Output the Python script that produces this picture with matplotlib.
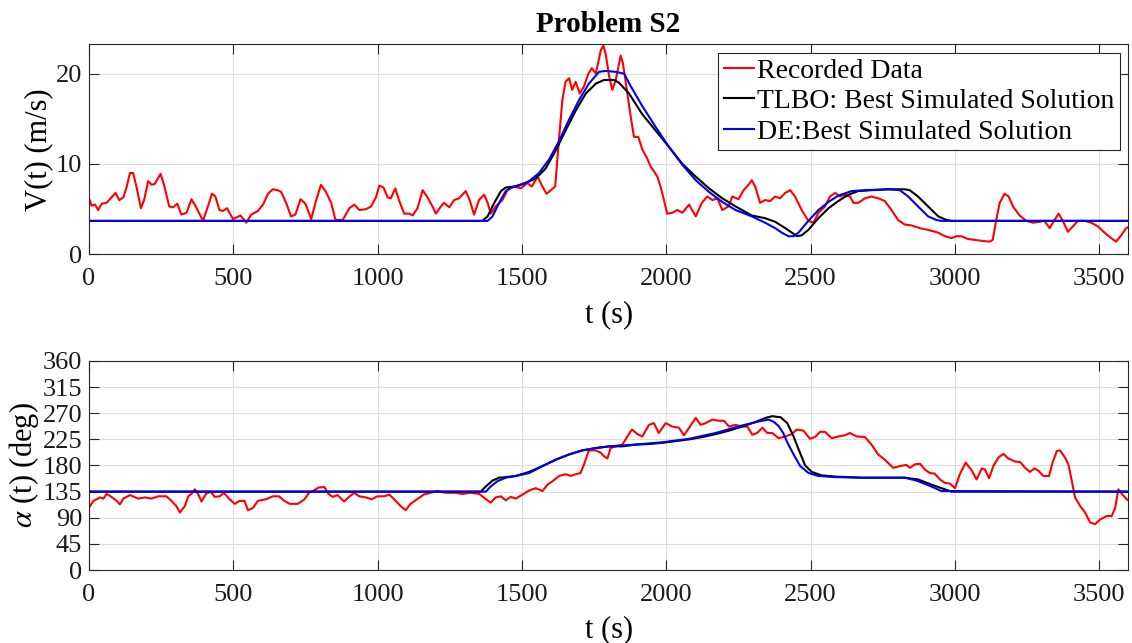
import numpy as np
import matplotlib
matplotlib.use('Agg')
import matplotlib.pyplot as plt

plt.rcParams['font.family'] = ['Liberation Serif', 'DejaVu Serif']
plt.rcParams['mathtext.fontset'] = 'stix'

# ---------- data ----------
# speed V(t), recorded
t_v_rec = [0, 9, 21, 32, 44, 61, 78, 92, 105, 119, 130, 142, 153, 165, 180, 191, 205, 217, 228, 248,
           259, 278, 291, 306, 320, 338, 355, 370, 395, 412, 426, 438, 452, 464, 478, 499, 525, 545, 562, 585,
           603, 620, 637, 654, 666, 683, 700, 715, 733, 750, 770, 787, 804, 821, 839, 854, 879, 902, 919, 937,
           960, 977, 994, 1006, 1020, 1035, 1046, 1061, 1075, 1092, 1110, 1121, 1138, 1156, 1173, 1190, 1202, 1219, 1230, 1248,
           1265, 1282, 1305, 1319, 1334, 1351, 1369, 1381, 1392, 1409, 1432, 1450, 1473, 1496, 1519, 1534, 1554, 1571, 1585, 1600,
           1615, 1626, 1640, 1651, 1663, 1674, 1686, 1700, 1715, 1730, 1742, 1756, 1773, 1782, 1790, 1802, 1813, 1825, 1842, 1850,
           1865, 1877, 1888, 1903, 1917, 1934, 1946, 1957, 1969, 1980, 1992, 2003, 2021, 2038, 2056, 2079, 2102, 2123, 2142, 2160,
           2177, 2194, 2215, 2229, 2250, 2268, 2285, 2296, 2308, 2325, 2342, 2360, 2377, 2394, 2412, 2429, 2446, 2469, 2492, 2510,
           2527, 2550, 2567, 2585, 2602, 2619, 2637, 2648, 2665, 2688, 2711, 2734, 2757, 2780, 2803, 2826, 2849, 2878, 2907, 2942,
           2965, 2988, 3005, 3022, 3045, 3068, 3091, 3120, 3131, 3143, 3155, 3172, 3186, 3201, 3224, 3247, 3270, 3293, 3310, 3328,
           3345, 3359, 3374, 3391, 3409, 3426, 3449, 3472, 3495, 3518, 3541, 3558, 3576, 3593, 3600]
v_rec = [6.2, 5.4, 5.5, 4.9, 5.6, 5.7, 6.3, 6.8, 6.0, 6.3, 7.4, 9.0, 9.0, 7.4, 5.1, 6.0, 8.1, 7.7, 7.8, 8.9,
         7.8, 5.3, 5.2, 5.6, 4.4, 4.6, 6.1, 5.3, 3.7, 5.3, 6.7, 6.4, 4.9, 4.8, 5.1, 3.9, 4.3, 3.5, 4.4, 4.8,
         5.5, 6.7, 7.2, 7.1, 6.9, 5.7, 4.2, 4.4, 6.1, 5.6, 3.9, 6.0, 7.7, 6.9, 5.7, 3.8, 3.8, 5.1, 5.5, 4.9,
         5.0, 5.3, 6.3, 7.6, 7.4, 6.3, 6.2, 7.3, 5.9, 4.5, 4.5, 4.3, 5.1, 7.1, 6.3, 5.3, 4.5, 5.3, 5.7, 5.2,
         6.0, 6.2, 7.0, 6.0, 4.4, 6.0, 6.6, 5.7, 4.5, 5.3, 6.0, 7.1, 7.5, 7.3, 7.9, 7.5, 8.6, 7.5, 6.7, 7.1,
         7.5, 11.9, 17.1, 19.1, 19.5, 18.2, 19.1, 17.8, 18.6, 20.0, 20.6, 20.0, 22.6, 23.1, 22.2, 19.7, 18.2, 19.3, 22.0, 21.1,
         17.8, 15.2, 13.0, 13.0, 11.6, 10.6, 9.7, 9.2, 8.6, 7.5, 6.0, 4.5, 4.6, 4.9, 4.6, 5.5, 4.2, 5.7, 6.4, 6.0,
         6.2, 4.9, 5.3, 6.4, 6.1, 7.1, 7.7, 8.2, 7.5, 5.7, 6.0, 5.9, 6.4, 6.2, 6.8, 7.1, 6.4, 4.9, 3.7, 3.5,
         4.6, 5.3, 6.4, 6.8, 6.4, 6.6, 6.4, 5.7, 5.7, 6.2, 6.4, 6.2, 5.9, 4.9, 3.8, 3.3, 3.2, 2.9, 2.7, 2.4,
         2.0, 1.8, 2.0, 2.0, 1.7, 1.6, 1.5, 1.4, 1.6, 3.8, 5.7, 6.7, 6.4, 5.3, 4.3, 3.7, 3.5, 3.6, 3.7, 2.9,
         3.8, 4.5, 3.7, 2.5, 3.1, 3.7, 3.7, 3.5, 3.1, 2.4, 1.8, 1.4, 2.1, 2.9, 3.0]

# speed V(t), TLBO best solution
t_v_tlbo = [0, 1363, 1381, 1404, 1427, 1444, 1473, 1513, 1548, 1582, 1617, 1651, 1686, 1721, 1756, 1784, 1819, 1836,
            1871, 1917, 1963, 2009, 2056, 2102, 2148, 2194, 2240, 2296, 2342, 2377, 2412, 2435, 2452, 2469, 2492,
            2527, 2562, 2596, 2631, 2665, 2711, 2769, 2826, 2843, 2872, 2907, 2942, 2971, 2988, 3600]
v_tlbo = [3.7, 3.7, 4.2, 5.7, 7.0, 7.4, 7.5, 7.9, 8.4, 9.5, 11.5, 13.7, 15.9, 17.8, 18.9, 19.3, 19.3, 19.0,
          17.8, 15.5, 13.7, 11.9, 10.0, 8.6, 7.3, 6.2, 5.3, 4.3, 4.0, 3.6, 2.9, 2.4, 2.0, 2.1, 2.7,
          4.0, 5.1, 5.9, 6.6, 7.0, 7.1, 7.2, 7.2, 7.1, 6.4, 5.3, 4.2, 3.8, 3.7, 3.7]

# speed V(t), DE best solution
t_v_de = [0, 1381, 1398, 1421, 1444, 1461, 1490, 1525, 1559, 1594, 1628, 1663, 1698, 1732, 1767, 1790, 1825, 1854,
          1877, 1917, 1963, 2009, 2056, 2102, 2148, 2194, 2240, 2296, 2342, 2377, 2400, 2423, 2440, 2458, 2492,
          2527, 2562, 2596, 2642, 2688, 2769, 2809, 2838, 2872, 2907, 2936, 2953, 3600]
v_de = [3.7, 3.7, 4.2, 5.7, 7.0, 7.4, 7.6, 8.1, 9.0, 10.5, 12.5, 14.9, 17.1, 18.9, 20.2, 20.3, 20.2, 20.0,
        18.6, 16.4, 14.1, 11.9, 9.9, 8.2, 6.9, 5.8, 4.9, 4.2, 3.5, 2.9, 2.4, 2.0, 2.0, 2.4, 3.7,
        4.9, 5.8, 6.5, 7.0, 7.1, 7.2, 7.1, 6.4, 5.3, 4.2, 3.8, 3.7, 3.7]

# heading alpha(t), recorded
t_a_rec = [0, 15, 27, 38, 50, 61, 75, 96, 107, 119, 142, 171, 194, 217, 240, 268, 286, 303, 315, 332,
           344, 355, 367, 378, 390, 405, 421, 436, 453, 467, 487, 505, 522, 539, 551, 568, 585, 614, 637, 658,
           677, 695, 724, 747, 762, 775, 796, 815, 830, 844, 861, 884, 901, 919, 936, 959, 980, 999, 1023, 1040,
           1057, 1080, 1097, 1114, 1137, 1160, 1183, 1206, 1235, 1270, 1293, 1322, 1352, 1375, 1392, 1409, 1427, 1444, 1461, 1479,
           1502, 1525, 1548, 1571, 1588, 1606, 1629, 1651, 1669, 1686, 1703, 1715, 1732, 1756, 1773, 1784, 1796, 1807, 1825, 1848,
           1865, 1881, 1900, 1917, 1940, 1957, 1974, 1998, 2021, 2044, 2061, 2079, 2102, 2119, 2136, 2160, 2183, 2200, 2217, 2240,
           2263, 2281, 2298, 2315, 2333, 2350, 2367, 2389, 2412, 2435, 2452, 2475, 2498, 2515, 2533, 2550, 2573, 2596, 2619, 2636,
           2659, 2688, 2711, 2734, 2757, 2786, 2809, 2832, 2844, 2861, 2879, 2896, 2913, 2930, 2948, 2965, 2982, 3000, 3017, 3037,
           3056, 3075, 3093, 3104, 3118, 3133, 3151, 3168, 3185, 3208, 3226, 3243, 3260, 3275, 3289, 3306, 3326, 3338, 3353, 3364,
           3382, 3393, 3405, 3416, 3434, 3451, 3468, 3486, 3503, 3526, 3543, 3555, 3566, 3580, 3595, 3600]
a_rec = [107, 119, 122, 125, 123, 131, 127, 119, 113, 123, 129, 123, 125, 123, 127, 127, 119, 110, 99, 110,
         127, 131, 139, 131, 118, 131, 135, 126, 127, 133, 122, 114, 119, 119, 103, 107, 119, 122, 127, 127,
         119, 114, 114, 122, 133, 136, 142, 143, 131, 126, 129, 118, 126, 133, 127, 125, 122, 127, 127, 130,
         122, 110, 103, 114, 122, 130, 133, 136, 133, 133, 131, 133, 131, 122, 116, 125, 127, 120, 126, 123,
         130, 137, 141, 136, 147, 153, 162, 165, 162, 165, 167, 182, 206, 206, 202, 196, 192, 210, 213, 216,
         230, 242, 234, 230, 250, 253, 236, 253, 247, 245, 232, 245, 262, 250, 253, 259, 257, 257, 247, 250,
         247, 247, 233, 236, 245, 236, 236, 227, 230, 234, 242, 240, 226, 229, 238, 238, 227, 230, 232, 236,
         230, 229, 216, 199, 190, 176, 179, 181, 176, 182, 183, 173, 167, 166, 156, 150, 149, 141, 165, 185,
         173, 156, 175, 173, 158, 179, 194, 200, 192, 187, 186, 176, 169, 175, 171, 162, 162, 185, 205, 206,
         193, 182, 153, 125, 110, 99, 82, 79, 87, 93, 93, 107, 139, 130, 122, 120]

# heading alpha(t), TLBO best solution
t_a_tlbo = [0, 1357, 1375, 1398, 1421, 1444, 1479, 1525, 1571, 1617, 1663, 1709, 1756, 1802, 1848, 1894, 1940, 1986,
            2032, 2079, 2125, 2171, 2217, 2263, 2309, 2344, 2367, 2396, 2419, 2440, 2459, 2481, 2504, 2538, 2584,
            2677, 2826, 2872, 2919, 2965, 2988, 3600]
a_tlbo = [135, 135, 144, 154, 159, 160, 162, 169, 179, 190, 199, 206, 210, 213, 213, 216, 217, 219,
          222, 225, 229, 234, 240, 247, 255, 262, 265, 263, 253, 231, 207, 180, 169, 163, 161,
          159, 159, 156, 147, 139, 135, 135]

# heading alpha(t), DE best solution
t_a_de = [0, 1375, 1392, 1415, 1444, 1479, 1525, 1571, 1617, 1663, 1709, 1756, 1802, 1894, 1986, 2079, 2171, 2263,
          2321, 2355, 2373, 2389, 2405, 2419, 2441, 2464, 2493, 2527, 2584, 2677, 2826, 2867, 2913, 2953, 3600]
a_de = [135, 135, 144, 153, 159, 162, 167, 179, 190, 199, 206, 210, 213, 216, 220, 226, 236, 249,
        256, 259, 255, 248, 236, 220, 199, 179, 167, 162, 160, 159, 159, 154, 145, 136, 135]

x_ticks = [0, 500, 1000, 1500, 2000, 2500, 3000, 3500]
v_ticks = [0, 10, 20]
a_ticks = [0, 45, 90, 135, 180, 225, 270, 315, 360]


def style_axes(ax):
    for sp in ax.spines.values():
        sp.set_color('#262626')
        sp.set_linewidth(0.8)
    ax.tick_params(direction='in', length=7, width=0.8, colors='#262626', labelsize=19,
                   top=True, right=True, labelcolor='#1a1a1a')
    ax.tick_params(axis='x', pad=10)
    ax.tick_params(axis='y', pad=5)
    ax.grid(True, color='#dcdcdc', linewidth=0.8)
    ax.set_axisbelow(True)


fig = plt.figure(figsize=(11.32, 6.43), dpi=100)

# ---------- top: speed ----------
ax1 = fig.add_axes([0.0786, 0.6045, 0.918, 0.3266])
ax1.plot(t_v_rec, v_rec, color='#ff0000', linewidth=1.5, label='Recorded Data')
ax1.plot(t_v_tlbo, v_tlbo, color='black', linewidth=1.5, label='TLBO: Best Simulated Solution')
ax1.plot(t_v_de, v_de, color='#0000ee', linewidth=1.5, label='DE:Best Simulated Solution')
ax1.set_xlim(0, 3600)
ax1.set_ylim(0, 23.25)
ax1.set_xticks(x_ticks)
ax1.set_yticks(v_ticks)
style_axes(ax1)
ax1.set_xlabel('t (s)', fontsize=22, labelpad=7)
ax1.set_ylabel('V(t) (m/s)', fontsize=22, labelpad=2)
ax1.set_title('Problem S2', fontsize=21, fontweight='bold', pad=9)
leg = ax1.legend(loc='upper right', fontsize=20, frameon=True, fancybox=False,
                 edgecolor='#262626', framealpha=1, handlelength=1.1, handletextpad=0.1,
                 borderpad=0.2, labelspacing=0.18, borderaxespad=0.3)
leg.get_frame().set_linewidth(0.8)

# ---------- bottom: heading ----------
ax2 = fig.add_axes([0.0786, 0.1135, 0.918, 0.3251])
ax2.plot(t_a_rec, a_rec, color='#ff0000', linewidth=1.5)
ax2.plot(t_a_tlbo, a_tlbo, color='black', linewidth=1.5)
ax2.plot(t_a_de, a_de, color='#0000ee', linewidth=1.5)
ax2.set_xlim(0, 3600)
ax2.set_ylim(0, 360)
ax2.set_xticks(x_ticks)
ax2.set_yticks(a_ticks)
style_axes(ax2)
ax2.set_xlabel('t (s)', fontsize=22, labelpad=7)
ax2.set_ylabel(r'$\alpha$ (t) (deg)', fontsize=22, labelpad=1)

fig.savefig('out.png', dpi=100)
